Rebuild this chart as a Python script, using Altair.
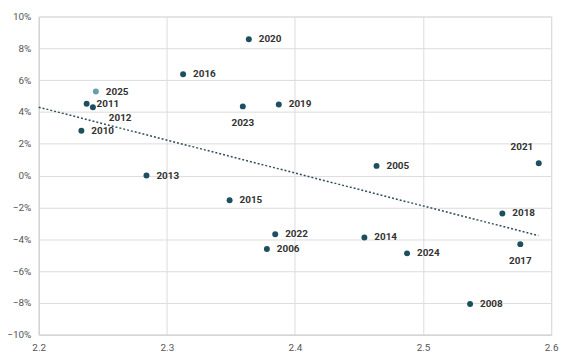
import altair as alt
import pandas as pd

years = ["2005", "2006", "2008", "2010", "2011", "2012", "2013", "2014", "2015",
         "2016", "2017", "2018", "2019", "2020", "2021", "2022", "2023", "2024", "2025"]
x_vals = [2.4637, 2.3781, 2.5367, 2.2333, 2.2374, 2.2423, 2.2841, 2.4542, 2.3490,
          2.3127, 2.5759, 2.5619, 2.3874, 2.3640, 2.5903, 2.3846, 2.3593, 2.4875, 2.2446]
y_vals = [0.61, -4.62, -8.07, 2.82, 4.52, 4.29, 0.0, -3.89, -1.55,
          6.37, -4.31, -2.38, 4.47, 8.57, 0.78, -3.69, 4.35, -4.89, 5.28]
label_side = ["right", "right", "right", "right", "right", "belowright", "right", "right", "right",
              "right", "below", "right", "right", "right", "aboveleft", "right", "below", "right", "right"]
highlight = ["no"] * 18 + ["yes"]

trend_x = [2.2, 2.59]
trend_y = [4.30, -3.77]

x_ticks = [2.2, 2.3, 2.4, 2.5, 2.6]
y_ticks = [-0.10, -0.08, -0.06, -0.04, -0.02, 0, 0.02, 0.04, 0.06, 0.08, 0.10]

df = pd.DataFrame({"year": years, "x": x_vals, "y": [v / 100 for v in y_vals],
                   "side": label_side, "hl": highlight})
trend = pd.DataFrame({"x": trend_x, "y": [v / 100 for v in trend_y]})

FONT = "Roboto"
xs = alt.Scale(domain=[2.2, 2.6], nice=False, zero=False)
ys = alt.Scale(domain=[-0.10, 0.10], nice=False, zero=False)

xaxis = alt.Axis(values=x_ticks, format=".1f", ticks=False, tickCount=5,
                 labelPadding=8, labelFontSize=10, labelColor="#555555",
                 labelFont=FONT, gridColor="#dcdcdc", domainColor="#d0d0d0",
                 labelFlush=False, labelOverlap=False)
yaxis = alt.Axis(values=y_ticks, format=".0%", ticks=False, tickCount=11,
                 labelPadding=8, labelFontSize=10,
                 labelColor="#555555", labelFont=FONT, gridColor="#dcdcdc",
                 domainColor="#d0d0d0", labelOverlap=False, labelFlush=False)

xenc = alt.X("x:Q", scale=xs, title=None, axis=xaxis)
yenc = alt.Y("y:Q", scale=ys, title=None, axis=yaxis)

base = alt.Chart(df)

points = base.mark_circle(size=36, opacity=1).encode(
    x=xenc, y=yenc,
    color=alt.Color("hl:N", scale=alt.Scale(domain=["no", "yes"], range=["#1d4f5f", "#6a9db3"]),
                    legend=None))

trend_line = alt.Chart(trend).mark_line(color="#2f4f5a", strokeDash=[2, 2], strokeWidth=1.5).encode(
    x=xenc, y=yenc)

def labels(side, align, dx, dy):
    return base.transform_filter(alt.datum.side == side).mark_text(
        align=align, baseline="middle", dx=dx, dy=dy, font=FONT, fontSize=10,
        fontWeight="bold", color="#333333").encode(
        x=xenc, y=yenc, text="year:N")

chart = alt.layer(
    points, trend_line,
    labels("right", "left", 10, 0),
    labels("belowright", "left", 16, 11),
    labels("below", "center", 0, 17),
    labels("aboveleft", "center", -17, -16),
).properties(
    width=517, height=321,
    autosize=alt.AutoSizeParams(type="none"),
    padding={"left": 31, "top": 7, "right": 20, "bottom": 26},
).configure_view(stroke=None).configure(background="white")

chart.save("out.html", embed_options={"renderer": "svg", "actions": False})
